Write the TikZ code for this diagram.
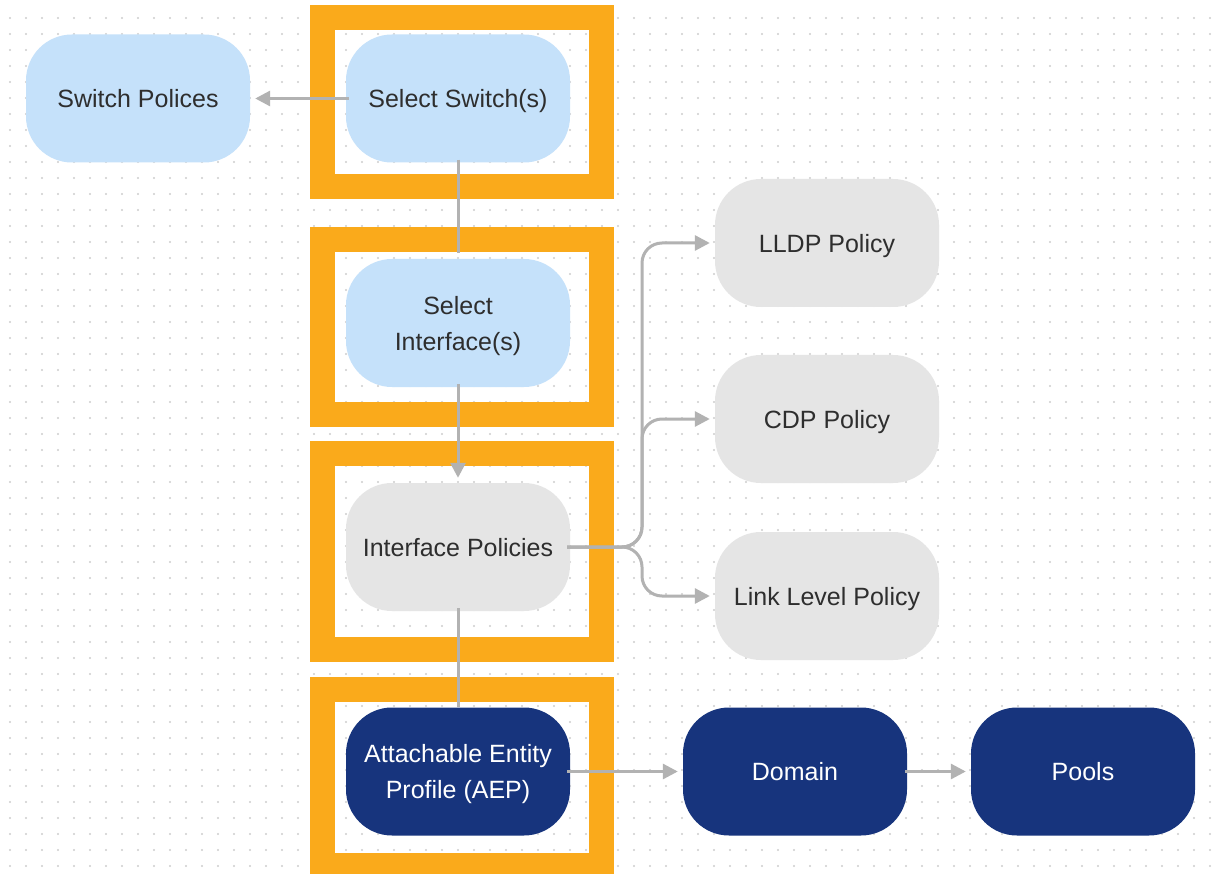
\documentclass[tikz,border=0pt]{standalone}
\usepackage{fontspec}
\setmainfont{Liberation Sans}
\usetikzlibrary{arrows.meta}
\definecolor{lblue}{HTML}{C5E1FA}
\definecolor{lgray}{HTML}{E5E5E5}
\definecolor{navy}{HTML}{17347D}
\definecolor{orng}{HTML}{FAAA1B}
\definecolor{conncol}{HTML}{B2B2B2}
\definecolor{txt}{HTML}{2E2E2E}
\definecolor{dotc}{HTML}{CDCDCD}
\begin{document}
\begin{tikzpicture}[x=1pt,y=-1pt,
  box/.style={rounded corners=46pt, minimum width=224pt, minimum height=128pt, inner sep=0pt, align=center, font=\fontsize{25}{36}\selectfont, text=txt, text depth=0pt},
  bluebox/.style={box, fill=lblue},
  graybox/.style={box, fill=lgray},
  navybox/.style={box, fill=navy, text=white},
  framebox/.style={draw=orng, line width=25pt},
  connline/.style={draw=conncol, line width=3pt},
  arr/.style={connline, -{Triangle[length=15pt,width=15pt]}, shorten >=5pt}]
\useasboundingbox (0,0) rectangle (1215,874);
\clip (0,0) rectangle (1215,874);
\fill[white] (0,0) rectangle (1215,874);
\foreach \x in {10,26,...,1210} \foreach \y in {18,34,...,874} \fill[dotc] (\x,\y) circle (1.1pt);
% orange frames
\draw[framebox] (322.5,17.5) rectangle (601.5,186.5);
\draw[framebox] (322.5,239.5) rectangle (601.5,414.5);
\draw[framebox] (322.5,453.5) rectangle (601.5,649.5);
\draw[framebox] (322.5,689.5) rectangle (601.5,865.5);
% nodes
\node[bluebox] (sp) at (138,98.5) {Switch Polices};
\node[bluebox] (ss) at (458,98.5) {Select Switch(s)};
\node[bluebox] (si) at (458,323) {Select\\Interface(s)};
\node[graybox] (ip) at (458,547) {Interface Policies};
\node[navybox] (aep) at (458,771.5) {Attachable Entity\\Profile (AEP)};
\node[navybox] (dom) at (795,771.5) {Domain};
\node[navybox] (pools) at (1083,771.5) {Pools};
\node[graybox] (lldp) at (827,243) {LLDP Policy};
\node[graybox] (cdp) at (827,419) {CDP Policy};
\node[graybox] (llp) at (827,596) {Link Level Policy};
\coordinate (trunk) at (642,547);
% connectors
\draw[arr, shorten <=-3pt] (ss.west) -- (sp.east);
\draw[connline, shorten <=-3pt, shorten >=6pt] (ss.south) -- (si.north);
\draw[arr, shorten <=-3pt] (si.south) -- (ip.north);
\draw[connline, shorten <=-3pt, shorten >=0pt] (ip.south) -- (aep.north);
\draw[arr, rounded corners=20pt, shorten <=-3pt] (ip.east) -- (trunk) |- (lldp.west);
\draw[arr, rounded corners=20pt, shorten <=-3pt] (ip.east) -- (trunk) |- (cdp.west);
\draw[arr, rounded corners=20pt, shorten <=-3pt] (ip.east) -- (trunk) |- (llp.west);
\draw[arr, shorten <=-3pt] (aep.east) -- (dom.west);
\draw[arr, shorten <=-2pt] (dom.east) -- (pools.west);
\end{tikzpicture}
\end{document}
